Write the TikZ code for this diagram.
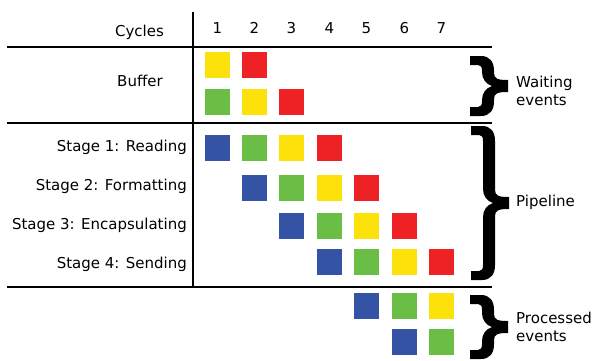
\documentclass[tikz,border=0pt]{standalone}
\usepackage{fontspec}
\setmainfont{DejaVu Sans}
\usetikzlibrary{positioning}

\definecolor{evyellow}{RGB}{252,226,10}
\definecolor{evred}{RGB}{238,34,36}
\definecolor{evgreen}{RGB}{106,189,69}
\definecolor{evblue}{RGB}{52,83,164}

\tikzset{
    event/.style={rectangle, minimum width=25pt, minimum height=26pt, inner sep=0pt},
    ye/.style={event, fill=evyellow},
    re/.style={event, fill=evred},
    ge/.style={event, fill=evgreen},
    be/.style={event, fill=evblue},
    rule/.style={line width=2pt, black},
    lbl/.style={font=\fontsize{15}{18}\selectfont, inner sep=0pt}
}

% fat curly brace: left edge x, middle y, half height
\newcommand{\evbrace}[3]{%
    \begin{scope}[shift={(#1,#2)}]
    \fill[black] (0,-#3) -- (11,-#3) .. controls (20,-#3) and (24,-#3+6) .. (24,-#3+15)
        -- (24,-13) .. controls (24,-7) and (28,-6) .. (38,-6)
        -- (38,6) .. controls (28,6) and (24,7) .. (24,13)
        -- (24,#3-15) .. controls (24,#3-6) and (20,#3) .. (11,#3)
        -- (0,#3) -- (0,#3-9) -- (8,#3-9) .. controls (11,#3-9) and (12,#3-11) .. (12,#3-15)
        -- (12,14) .. controls (12,7) and (16,2) .. (22,0)
        .. controls (16,-2) and (12,-7) .. (12,-14)
        -- (12,-#3+15) .. controls (12,-#3+11) and (11,-#3+9) .. (8,-#3+9)
        -- (0,-#3+9) -- cycle;
    \end{scope}}

\begin{document}
\begin{tikzpicture}[x=1pt, y=-1pt]
        \useasboundingbox (0,0) rectangle (595,360);

        % table rules
        \draw[rule] (7,46.5) -- (492,46.5);
        \draw[rule] (7,122.5) -- (492,122.5);
        \draw[rule] (7,287) -- (492,287);
        \draw[rule] (193,12) -- (193,287);

        % header
        \node[lbl, anchor=base] (cyc) at (139.5,36.5) {Cycles};
        \node[lbl, anchor=base] (c1) at (217.5,33) {1};
        \node[lbl, anchor=base] (c2) at (254.5,33) {2};
        \node[lbl, anchor=base] (c3) at (291.5,33) {3};
        \node[lbl, anchor=base] (c4) at (329.5,33) {4};
        \node[lbl, anchor=base] (c5) at (366.5,33) {5};
        \node[lbl, anchor=base] (c6) at (404.5,33) {6};
        \node[lbl, anchor=base] (c7) at (441.5,33) {7};

        % row labels
        \node[lbl, anchor=base] (buf) at (140,86) {Buffer};
        \node[lbl, anchor=base east] (s1) at (187,151.5) {Stage 1: Reading};
        \node[lbl, anchor=base east] (s2) at (187,190.5) {Stage 2: Formatting};
        \node[lbl, anchor=base east] (s3) at (187,229) {Stage 3: Encapsulating};
        \node[lbl, anchor=base east] (s4) at (187,268) {Stage 4: Sending};

        % buffer
        \node[ye] (b11) at (217.5,65) {};
        \node[re] (b12) at (254.5,65) {};
        \node[ge] (b21) at (217.5,102) {};
        \node[ye] (b22) at (254.5,102) {};
        \node[re] (b23) at (291.5,102) {};

        % pipeline stages
        \node[be] (p11) at (217.5,147.5) {};
        \node[ge] (p12) at (254.5,147.5) {};
        \node[ye] (p13) at (291.5,147.5) {};
        \node[re] (p14) at (329.5,147.5) {};

        \node[be] (p22) at (254.5,188) {};
        \node[ge] (p23) at (291.5,188) {};
        \node[ye] (p24) at (329.5,188) {};
        \node[re] (p25) at (366.5,188) {};

        \node[be] (p33) at (291.5,225.5) {};
        \node[ge] (p34) at (329.5,225.5) {};
        \node[ye] (p35) at (366.5,225.5) {};
        \node[re] (p36) at (404.5,225.5) {};

        \node[be] (p44) at (329.5,262) {};
        \node[ge] (p45) at (366.5,262) {};
        \node[ye] (p46) at (404.5,262) {};
        \node[re] (p47) at (441.5,262) {};

        % processed
        \node[be] (o15) at (366.5,305.5) {};
        \node[ge] (o16) at (404.5,305.5) {};
        \node[ye] (o17) at (441.5,305.5) {};
        \node[be] (o26) at (404.5,342) {};
        \node[ge] (o27) at (441.5,342) {};

        % braces and their captions
        \evbrace{470}{86}{30}
        \evbrace{471}{203}{77}
        \evbrace{470}{327}{32}

        \node[lbl, anchor=west, align=left] (wait) at (516,91) {Waiting\\events};
        \node[lbl, anchor=base west] (pipe) at (516,206) {Pipeline};
        \node[lbl, anchor=west, align=left] (proc) at (516,326.5) {Processed\\events};

    \end{tikzpicture}
\end{document}
